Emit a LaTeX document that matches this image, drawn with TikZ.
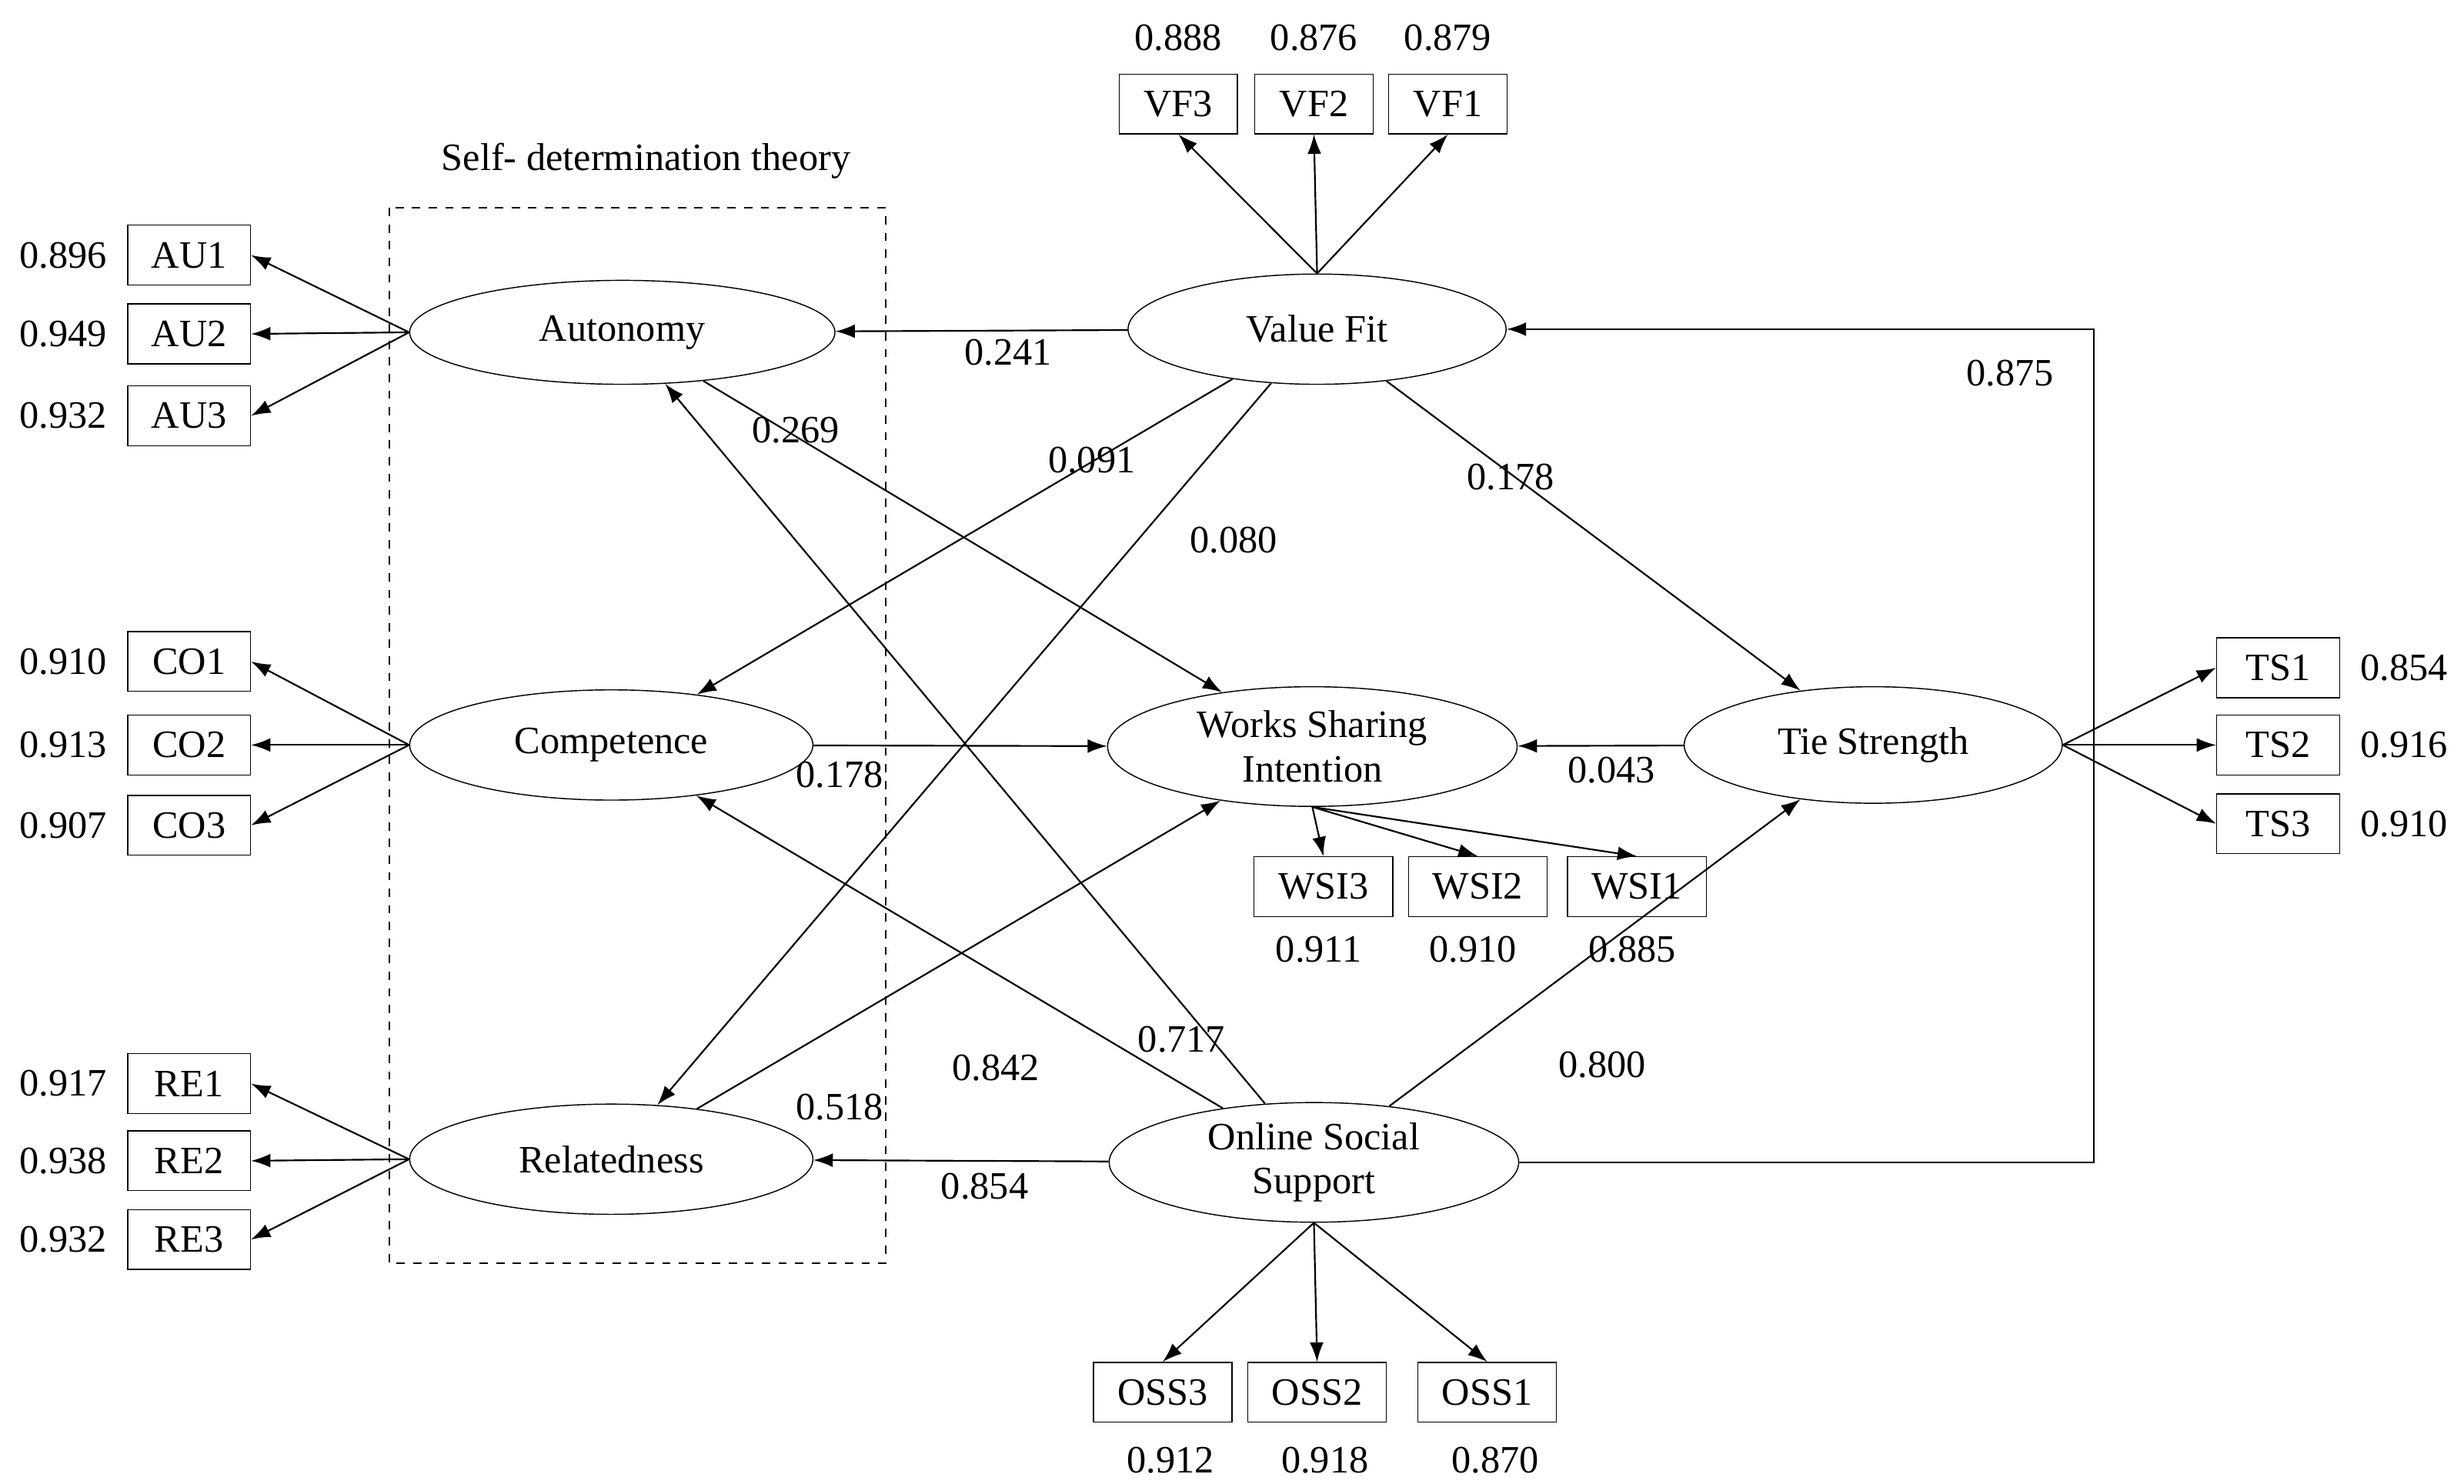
\documentclass[tikz,border=0pt]{standalone}
\usepackage{fontspec}
\setmainfont{Liberation Serif}
\usetikzlibrary{shapes.geometric,arrows.meta}
\begin{document}
\begin{tikzpicture}[x=0.02cm,y=-0.02cm,font=\fontsize{14}{16}\selectfont,
  lat/.style={draw,ellipse,inner sep=0pt,align=center},
  box/.style={draw,rectangle,minimum height=0.76cm,minimum width=1.56cm,inner sep=1pt},
  wbox/.style={box,minimum width=1.76cm},
  arr/.style={-{Latex[length=7pt,width=5pt]},line width=0.6pt},
  lbl/.style={inner sep=1pt}]
\useasboundingbox (0,0) rectangle (1564,942);
\fill[white] (0,0) rectangle (1564,942);
\draw[dashed,line width=0.6pt] (247,132) rectangle (562,802);
\node at (410,102) {Self- determination theory};
% latent
\node[lat,minimum width=5.4cm,minimum height=1.32cm] (au) at (395,211) {Autonomy};
\node[lat,minimum width=5.12cm,minimum height=1.4cm] (co) at (388,473) {Competence};
\node[lat,minimum width=5.12cm,minimum height=1.4cm] (re) at (388,736) {Relatedness};
\node[lat,minimum width=4.8cm,minimum height=1.4cm] (vf) at (836,209) {Value Fit};
\node[lat,minimum width=5.2cm,minimum height=1.52cm] (wsi) at (833,474) {Works Sharing\\Intention};
\node[lat,minimum width=4.8cm,minimum height=1.48cm] (ts) at (1189,473) {Tie Strength};
\node[lat,minimum width=5.2cm,minimum height=1.52cm] (oss) at (834,738) {Online Social\\Support};
% indicators
\foreach \n/\y/\v in {AU1/162/0.896,AU2/212/0.949,AU3/264/0.932}{
  \node[box] (\n) at (120,\y) {\n}; \node[lbl] at (40,\y) {\v};
  \draw[arr] (au.west) -- (\n.east);}
\foreach \n/\y/\v in {CO1/420/0.910,CO2/473/0.913,CO3/524/0.907}{
  \node[box] (\n) at (120,\y) {\n}; \node[lbl] at (40,\y) {\v};
  \draw[arr] (co.west) -- (\n.east);}
\foreach \n/\y/\v in {RE1/688/0.917,RE2/737/0.938,RE3/787/0.932}{
  \node[box] (\n) at (120,\y) {\n}; \node[lbl] at (40,\y) {\v};
  \draw[arr] (re.west) -- (\n.east);}
\foreach \n/\x/\v in {VF3/748/0.888,VF2/834/0.876,VF1/919/0.879}{
  \node[box,minimum width=1.5cm] (\n) at (\x,66) {\n}; \node[lbl] at (\x,24) {\v};
  \draw[arr] (vf.north) -- (\n.south);}
\foreach \n/\x/\v in {WSI3/840/0.911,WSI2/938/0.910,WSI1/1039/0.885}{
  \node[wbox] (\n) at (\x,563) {\n}; \node[lbl] at (\x-3,603) {\v};
  \draw[arr] (wsi.south) -- (\n.north);}
\foreach \n/\y/\v in {TS1/424/0.854,TS2/473/0.916,TS3/523/0.910}{
  \node[box] (\n) at (1446,\y) {\n}; \node[lbl] at (1526,\y) {\v};
  \draw[arr] (ts.east) -- (\n.west);}
\foreach \n/\x/\v in {OSS3/738/0.912,OSS2/836/0.918,OSS1/944/0.870}{
  \node[wbox] (\n) at (\x,884) {\n}; \node[lbl] at (\x+5,927) {\v};
  \draw[arr] (oss.south) -- (\n.north);}
% structural
\draw[arr] (vf) -- (au); \node[lbl] at (640,224) {0.241};
\draw[arr] (au) -- (wsi); \node[lbl] at (505,273) {0.269};
\draw[arr] (vf) -- (co); \node[lbl] at (693,292) {0.091};
\draw[arr] (vf) -- (re); \node[lbl] at (783,343) {0.080};
\draw[arr] (vf) -- (ts); \node[lbl] at (959,303) {0.178};
\draw[arr] (co) -- (wsi); \node[lbl] at (533,492) {0.178};
\draw[arr] (ts) -- (wsi); \node[lbl] at (1023,489) {0.043};
\draw[arr] (re) -- (wsi); \node[lbl] at (533,703) {0.518};
\draw[arr] (oss) -- (au); \node[lbl] at (750,660) {0.717};
\draw[arr] (oss) -- (co); \node[lbl] at (632,678) {0.842};
\draw[arr] (oss) -- (re); \node[lbl] at (625,753) {0.854};
\draw[arr] (oss) -- (ts); \node[lbl] at (1017,676) {0.800};
\coordinate (c1) at (1329,738); \coordinate (c2) at (1329,209);
\draw[arr] (oss.east) -- (c1) -- (c2) -- (vf.east); \node[lbl] at (1276,237) {0.875};
\end{tikzpicture}
\end{document}
